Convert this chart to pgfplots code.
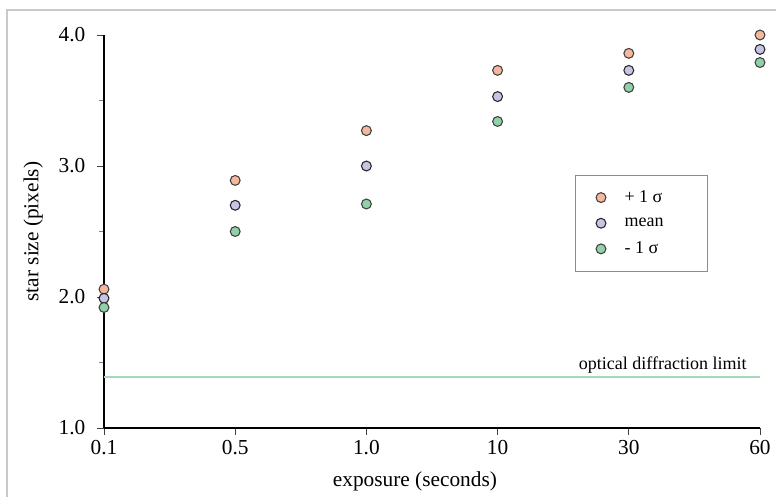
\documentclass[border=0pt]{standalone}
\usepackage{pgfplots}
\pgfplotsset{compat=1.18}
\usepackage{fontspec}
\setmainfont{Liberation Serif}
\usetikzlibrary{shadows}
\definecolor{cplus}{HTML}{F5B79D}
\definecolor{cmean}{HTML}{C7C5E6}
\definecolor{cminus}{HTML}{8FD1A9}
\definecolor{climit}{HTML}{A3D9B6}
\definecolor{frame}{HTML}{C9C9C9}
\begin{document}
\begin{tikzpicture}
\useasboundingbox (-78pt,-51.75pt) rectangle (504pt,321pt);
\draw[frame, line width=1.5pt] (-72.75pt,-60pt) -- (-72.75pt,313.5pt) -- (510pt,313.5pt);
\begin{axis}[
  at={(0,0)}, anchor=origin,
  scale only axis, width=492pt, height=294.75pt,
  xmin=0, xmax=5, ymin=1, ymax=4,
  axis x line=bottom, axis y line=left,
  axis line style={-, line width=1.3pt, black},
  xtick={0,1,2,3,4,5},
  xticklabels={0.1,0.5,1.0,10,30,60},
  ytick={1,2,3,4},
  yticklabels={1.0,2.0,3.0,4.0},
  minor ytick={1.5,2.5,3.5},
  tick align=outside,
  major tick length=5pt,
  minor tick length=3.5pt,
  every tick/.style={black!75, line width=0.6pt},
  minor tick style={black!50},
  tick label style={font=\fontsize{16}{18}\selectfont},
  /pgf/number format/assume math mode=true,
  xticklabel style={yshift=-1pt},
  yticklabel style={xshift=-5.5pt},
  xlabel={exposure (seconds)},
  ylabel={star size (pixels)},
  every axis x label/.style={at={(axis description cs:0.474,-0.137)}, anchor=center, font=\fontsize{16}{18}\selectfont},
  every axis y label/.style={at={(axis description cs:-0.108,0.5)}, anchor=center, rotate=90, font=\fontsize{16}{18}\selectfont},
  clip=false,
  legend style={at={(rel axis cs:0.718,0.644)}, anchor=north west,
    draw=black!45, line width=0.6pt, inner xsep=15.5pt, inner ysep=9.5pt,
    row sep=6.1pt, font=\fontsize{13.5}{15}\selectfont,
    /tikz/every odd column/.append style={column sep=12pt}},
  legend cell align=left,
]
\addplot[climit, line width=1.6pt, forget plot] coordinates {(0,1.39) (5,1.39)};
\node[anchor=base east, inner sep=0pt, font=\fontsize{13.5}{15}\selectfont] at (axis cs:4.9,1.445) {optical diffraction limit};
\addplot[only marks, mark=*, mark size=3.7pt, mark options={fill=cplus, draw=black!75, line width=0.8pt, drop shadow={opacity=0.18, shadow xshift=1.2pt, shadow yshift=-1.5pt}}]
  coordinates {(0,2.06) (1,2.89) (2,3.27) (3,3.73) (4,3.86) (5,4.00)};
\addlegendentry{\makebox[44.5pt][l]{+ 1 σ}}
\addplot[only marks, mark=*, mark size=3.7pt, mark options={fill=cmean, draw=black!85, line width=0.8pt, drop shadow={opacity=0.18, shadow xshift=1.2pt, shadow yshift=-1.5pt}}]
  coordinates {(0,1.99) (1,2.70) (2,3.00) (3,3.53) (4,3.73) (5,3.89)};
\addlegendentry{\makebox[44.5pt][l]{mean}}
\addplot[only marks, mark=*, mark size=3.7pt, mark options={fill=cminus, draw=black!75, line width=0.8pt, drop shadow={opacity=0.18, shadow xshift=1.2pt, shadow yshift=-1.5pt}}]
  coordinates {(0,1.92) (1,2.50) (2,2.71) (3,3.34) (4,3.60) (5,3.79)};
\addlegendentry{\makebox[44.5pt][l]{- 1 σ}}
\end{axis}
\end{tikzpicture}
\end{document}
